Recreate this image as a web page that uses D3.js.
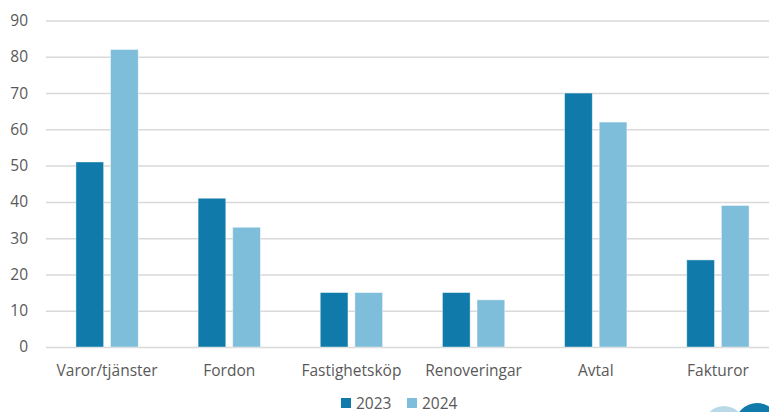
<!DOCTYPE html>
<html><head><meta charset="utf-8">
<script src="https://cdn.jsdelivr.net/npm/d3@7"></script>
<style>html,body{margin:0;padding:0;background:#fff;overflow:hidden}</style>
</head><body>
<svg id="c" width="769" height="412"></svg>
<script>
const categories = ["Varor/tjänster","Fordon","Fastighetsköp","Renoveringar","Avtal","Fakturor"];
const series = ["2023","2024"];
const values2023 = [51,41,15,15,70,24];
const values2024 = [82,33,15,13,62,39];
const yTicks = [0,10,20,30,40,50,60,70,80,90];
const colors = ["#107BAA","#7FBEDB"];

const svg = d3.select("#c");
const font = "'Open Sans', sans-serif";
const fs = "15.5px";
const y = d3.scaleLinear().domain([0,90]).range([347,20.5]);
const x = d3.scaleBand().domain(categories).range([46,779]).paddingInner(0.49).paddingOuter(0.245);
const xs = d3.scaleBand().domain(series).range([0,x.bandwidth()]).paddingInner(0.2);

// gridlines
const yAxis = d3.axisLeft(y).tickValues(yTicks).tickSize(-(779-46)).tickPadding(18);
const gy = svg.append("g").attr("transform","translate(46,0)").call(yAxis);
gy.select(".domain").remove();
gy.selectAll(".tick line").attr("stroke","#d9d9d9").attr("stroke-width",1.5);
gy.selectAll(".tick text").attr("fill","#595959").style("font-family",font).style("font-size",fs);

const data = [values2023, values2024];
series.forEach((s,i)=>{
  svg.append("g").selectAll("rect").data(categories).join("rect")
    .attr("x",c=>x(c)+xs(s))
    .attr("width",xs.bandwidth())
    .attr("y",(c,j)=>y(data[i][j]))
    .attr("height",(c,j)=>y(0)-y(data[i][j]))
    .attr("fill",colors[i])
    .attr("stroke","#ffffff").attr("stroke-opacity",0.5).attr("stroke-width",0.8);
});

// x axis labels
const xAxis = d3.axisBottom(x).tickSize(0).tickPadding(18);
const gx = svg.append("g").attr("transform",`translate(0,${y(0)})`).call(xAxis);
gx.select(".domain").remove();
gx.selectAll(".tick text").attr("fill","#595959").style("font-family",font).style("font-size",fs);

// legend
const lg = svg.append("g");
const legX = [341,407];
series.forEach((s,i)=>{
  lg.append("rect").attr("x",legX[i]).attr("y",398).attr("width",10).attr("height",10).attr("fill",colors[i]);
  lg.append("text").attr("x",legX[i]+15).attr("y",408.5).text(s)
    .attr("fill","#595959").style("font-family",font).style("font-size",fs);
});

// logo fragment bottom-right
svg.append("circle").attr("cx",724).attr("cy",426).attr("r",20).attr("fill","#b9d9e8");
svg.append("circle").attr("cx",757).attr("cy",425).attr("r",22).attr("fill","#107BAA");
</script>
</body></html>
